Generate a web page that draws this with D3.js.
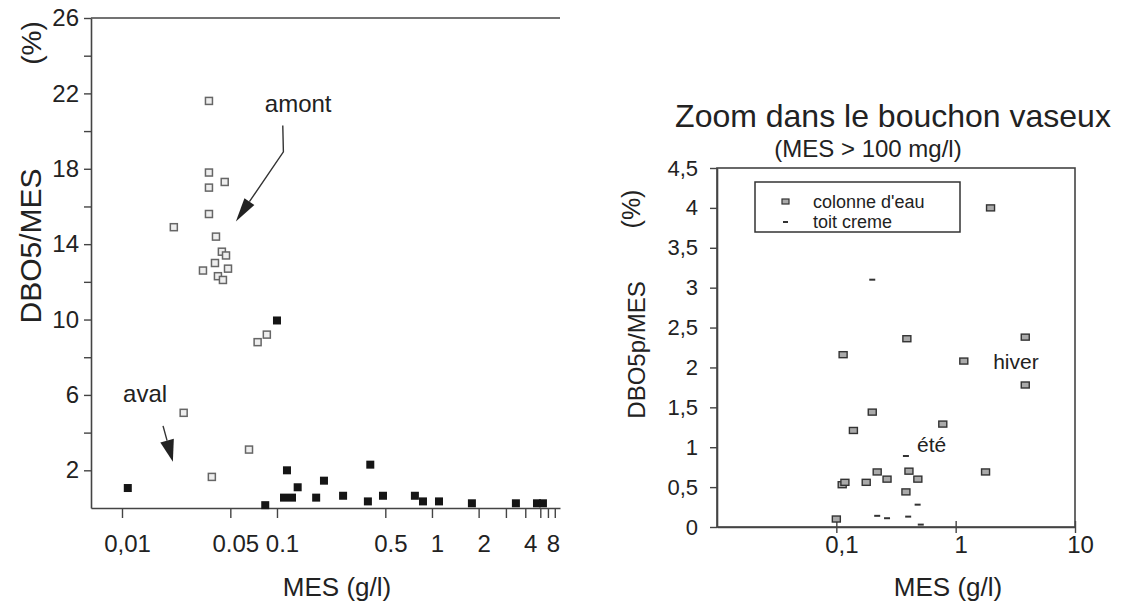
<!DOCTYPE html>
<html>
<head>
<meta charset="utf-8">
<script src="https://cdn.jsdelivr.net/npm/d3@7"></script>
<style>
  body { margin: 0; background: #fff; }
  text { font-family: "Liberation Sans", Arial, Helvetica, sans-serif; fill: #222; }
</style>
</head>
<body>
<div id="chart"></div>
<script>
// ---- left panel: DBO5/MES (%) against MES (g/l), all samples
const leftOpen = [
  [0.0364, 21.6], [0.0364, 17.8], [0.046, 17.3], [0.0364, 17.0], [0.0364, 15.6],
  [0.0216, 14.9], [0.0404, 14.4], [0.0441, 13.6], [0.0469, 13.4], [0.0398, 13.0],
  [0.0333, 12.6], [0.0483, 12.7], [0.0416, 12.3], [0.0448, 12.1],
  [0.086, 9.2], [0.075, 8.8], [0.025, 5.05], [0.066, 3.1], [0.038, 1.65]
];
const leftFilled = [
  [0.0109, 1.06], [0.1, 9.95], [0.084, 0.15], [0.116, 2.0], [0.111, 0.55], [0.125, 0.55],
  [0.136, 1.1], [0.179, 0.55], [0.201, 1.45], [0.267, 0.65], [0.386, 0.35], [0.40, 2.3],
  [0.483, 0.65], [0.776, 0.65], [0.875, 0.35], [1.11, 0.35], [1.81, 0.25], [3.48, 0.25],
  [4.76, 0.25], [5.2, 0.25]
];
const leftYTicks = [2, 4, 6, 8, 10, 12, 14, 16, 18, 20, 22, 24, 26];
const leftYLabeled = [2, 6, 10, 14, 18, 22, 26];
const leftXTicks = [0.01, 0.05, 0.1, 0.5, 1, 2, 3, 4, 5, 5.6, 6.2];
const leftXLabels = ["0,01", "0.05", "0.1", "0.5", "1", "2", "", "4", "", "8", ""];

// ---- right panel: zoom in the turbidity maximum (MES > 100 mg/l)
const colonneEau = [
  [0.1, 0.1], [0.112, 0.53], [0.118, 0.56], [0.114, 2.16], [0.139, 1.21], [0.178, 0.56],
  [0.2, 1.44], [0.22, 0.69], [0.266, 0.60], [0.39, 2.36], [0.406, 0.70], [0.383, 0.44],
  [0.482, 0.60], [0.78, 1.29], [1.17, 2.08], [1.96, 4.0], [1.78, 0.69], [3.83, 2.38],
  [3.83, 1.78]
];
const toitCreme = [
  [0.2, 3.10], [0.383, 0.89], [0.48, 0.28], [0.22, 0.14], [0.266, 0.11], [0.40, 0.13], [0.51, 0.03]
];
const rightYTicks = [0, 0.5, 1, 1.5, 2, 2.5, 3, 3.5, 4, 4.5];
const rightXTicks = [0.1, 1, 10];
const rightXLabels = ["0,1", "1", "10"];

const fmtComma = d => String(d).replace(".", ",");

const svg = d3.select("#chart")
  .append("svg")
  .attr("width", 1125)
  .attr("height", 610);

svg.append("rect").attr("width", 1125).attr("height", 610).attr("fill", "#fff");

const axisColor = "#444";

function styleAxis(g, size) {
  g.selectAll(".domain").attr("stroke", axisColor).attr("stroke-width", 1.6);
  g.selectAll(".tick line").attr("stroke", axisColor).attr("stroke-width", 1.4);
  g.selectAll("text")
    .attr("fill", "#222")
    .style("font-family", "'Liberation Sans', Arial, sans-serif")
    .style("font-size", size + "px");
}

function arrow(g, pts, headLen, headW) {
  const n = pts.length;
  const tip = pts[n - 1], prev = pts[n - 2];
  const dx = tip[0] - prev[0], dy = tip[1] - prev[1];
  const len = Math.hypot(dx, dy);
  const ux = dx / len, uy = dy / len;
  const base = [tip[0] - ux * headLen, tip[1] - uy * headLen];
  const line = pts.slice(0, n - 1).concat([base]);
  g.append("path")
    .attr("d", d3.line()(line))
    .attr("fill", "none")
    .attr("stroke", "#333")
    .attr("stroke-width", 1.4);
  g.append("path")
    .attr("d", d3.line()([
      [base[0] - uy * headW, base[1] + ux * headW],
      tip,
      [base[0] + uy * headW, base[1] - ux * headW]
    ]) + "Z")
    .attr("fill", "#222");
}

// ================= LEFT PANEL =================
const xL = d3.scaleLog().domain([0.00631, 6.7]).range([91, 560]);
const yL = d3.scaleLinear().domain([0, 26]).range([508, 18]);

const left = svg.append("g");

left.append("g")
  .attr("transform", `translate(0,${yL(0)})`)
  .call(d3.axisBottom(xL)
    .tickValues(leftXTicks)
    .tickSize(10)
    .tickSizeOuter(0)
    .tickPadding(17)
    .tickFormat((d, i) => leftXLabels[i]))
  .call(g => styleAxis(g, 24))
  .call(g => g.selectAll("text").attr("dx", 5));

left.append("g")
  .attr("transform", `translate(${xL.range()[0]},0)`)
  .call(d3.axisLeft(yL)
    .tickValues(leftYTicks)
    .tickSize(7)
    .tickSizeOuter(0)
    .tickPadding(5)
    .tickFormat(d => leftYLabeled.includes(d) ? d : ""))
  .call(g => styleAxis(g, 24));

// top frame line
left.append("line")
  .attr("x1", xL.range()[0]).attr("x2", xL.range()[1])
  .attr("y1", yL(26)).attr("y2", yL(26))
  .attr("stroke", axisColor).attr("stroke-width", 1.6);

left.selectAll("rect.open")
  .data(leftOpen)
  .join("rect")
  .attr("class", "open")
  .attr("x", d => xL(d[0]) - 3.5)
  .attr("y", d => yL(d[1]) - 3.5)
  .attr("width", 7)
  .attr("height", 7)
  .attr("fill", "#eee")
  .attr("stroke", "#666")
  .attr("stroke-width", 1.5);

left.selectAll("rect.filled")
  .data(leftFilled)
  .join("rect")
  .attr("class", "filled")
  .attr("x", d => xL(d[0]) - 4)
  .attr("y", d => yL(d[1]) - 4)
  .attr("width", 8)
  .attr("height", 8)
  .attr("fill", "#151515");

left.append("text")
  .attr("x", xL(0.137)).attr("y", yL(21.5) + 9)
  .attr("text-anchor", "middle")
  .style("font-size", "24px")
  .text("amont");
arrow(left, [[xL(0.109), yL(20.3)], [xL(0.11), yL(18.9)], [xL(0.0543), yL(15.2)]], 24, 6);

left.append("text")
  .attr("x", xL(0.0141)).attr("y", yL(6.1) + 9)
  .attr("text-anchor", "middle")
  .style("font-size", "24px")
  .text("aval");
arrow(left, [[xL(0.0184), yL(4.36)], [xL(0.0213), yL(2.45)]], 22, 7);

left.append("text")
  .attr("transform", `translate(41,246) rotate(-90)`)
  .attr("text-anchor", "middle")
  .style("font-size", "30px")
  .text("DBO5/MES");
left.append("text")
  .attr("transform", `translate(41,43) rotate(-90)`)
  .attr("text-anchor", "middle")
  .style("font-size", "28px")
  .text("(%)");

left.append("text")
  .attr("x", 337).attr("y", 596)
  .attr("text-anchor", "middle")
  .style("font-size", "26px")
  .text("MES (g/l)");

// ================= RIGHT PANEL =================
const xR = d3.scaleLog().domain([0.01, 10]).range([717, 1075]);
const yR = d3.scaleLinear().domain([0, 4.5]).range([527, 168]);

const right = svg.append("g");

right.append("rect")
  .attr("x", xR.range()[0]).attr("y", yR(4.5))
  .attr("width", xR.range()[1] - xR.range()[0])
  .attr("height", yR(0) - yR(4.5))
  .attr("fill", "none")
  .attr("stroke", axisColor).attr("stroke-width", 1.6);

right.append("g")
  .attr("transform", `translate(0,${yR(0)})`)
  .call(d3.axisBottom(xR)
    .tickValues(rightXTicks)
    .tickSize(6)
    .tickSizeOuter(0)
    .tickPadding(3)
    .tickFormat((d, i) => rightXLabels[i]))
  .call(g => styleAxis(g, 24))
  .call(g => g.selectAll(".tick line").attr("y1", -6))
  .call(g => g.selectAll("text").attr("dx", 5));

right.append("g")
  .attr("transform", `translate(${xR.range()[0]},0)`)
  .call(d3.axisLeft(yR)
    .tickValues(rightYTicks)
    .tickSize(7)
    .tickSizeOuter(0)
    .tickPadding(12)
    .tickFormat(fmtComma))
  .call(g => styleAxis(g, 22));

right.selectAll("rect.eau")
  .data(colonneEau)
  .join("rect")
  .attr("class", "eau")
  .attr("x", d => xR(d[0]) - 4)
  .attr("y", d => yR(d[1]) - 3)
  .attr("width", 8)
  .attr("height", 6)
  .attr("fill", "#aaa")
  .attr("stroke", "#333")
  .attr("stroke-width", 1.4);

right.selectAll("line.creme")
  .data(toitCreme)
  .join("line")
  .attr("class", "creme")
  .attr("x1", d => xR(d[0]) - 3)
  .attr("x2", d => xR(d[0]) + 3)
  .attr("y1", d => yR(d[1]))
  .attr("y2", d => yR(d[1]))
  .attr("stroke", "#333")
  .attr("stroke-width", 2);

right.append("text")
  .attr("x", xR(0.63)).attr("y", yR(1.04) + 8)
  .attr("text-anchor", "middle")
  .style("font-size", "21px")
  .text("été");
right.append("text")
  .attr("x", xR(3.2)).attr("y", yR(2.08) + 8)
  .attr("text-anchor", "middle")
  .style("font-size", "21px")
  .text("hiver");

// legend
const legend = right.append("g");
legend.append("rect")
  .attr("x", 755).attr("y", 182).attr("width", 205).attr("height", 50)
  .attr("fill", "#fff").attr("stroke", "#333").attr("stroke-width", 1.5);
legend.append("rect")
  .attr("x", 782).attr("y", 199).attr("width", 7).attr("height", 5)
  .attr("fill", "#aaa").attr("stroke", "#333").attr("stroke-width", 1.2);
legend.append("line")
  .attr("x1", 783).attr("x2", 788).attr("y1", 222).attr("y2", 222)
  .attr("stroke", "#333").attr("stroke-width", 2);
legend.append("text")
  .attr("x", 813).attr("y", 202).attr("dy", "0.35em")
  .style("font-size", "18px").text("colonne d'eau");
legend.append("text")
  .attr("x", 813).attr("y", 222).attr("dy", "0.35em")
  .style("font-size", "18px").text("toit creme");

right.append("text")
  .attr("x", 893).attr("y", 127)
  .attr("text-anchor", "middle")
  .style("font-size", "32px")
  .text("Zoom dans le bouchon vaseux");
right.append("text")
  .attr("x", 868).attr("y", 157)
  .attr("text-anchor", "middle")
  .style("font-size", "24px")
  .text("(MES > 100 mg/l)");

right.append("text")
  .attr("transform", `translate(645,350) rotate(-90)`)
  .attr("text-anchor", "middle")
  .style("font-size", "24px")
  .text("DBO5p/MES");
right.append("text")
  .attr("transform", `translate(640,209) rotate(-90)`)
  .attr("text-anchor", "middle")
  .style("font-size", "25px")
  .text("(%)");

right.append("text")
  .attr("x", 948).attr("y", 596)
  .attr("text-anchor", "middle")
  .style("font-size", "26px")
  .text("MES (g/l)");
</script>
</body>
</html>
